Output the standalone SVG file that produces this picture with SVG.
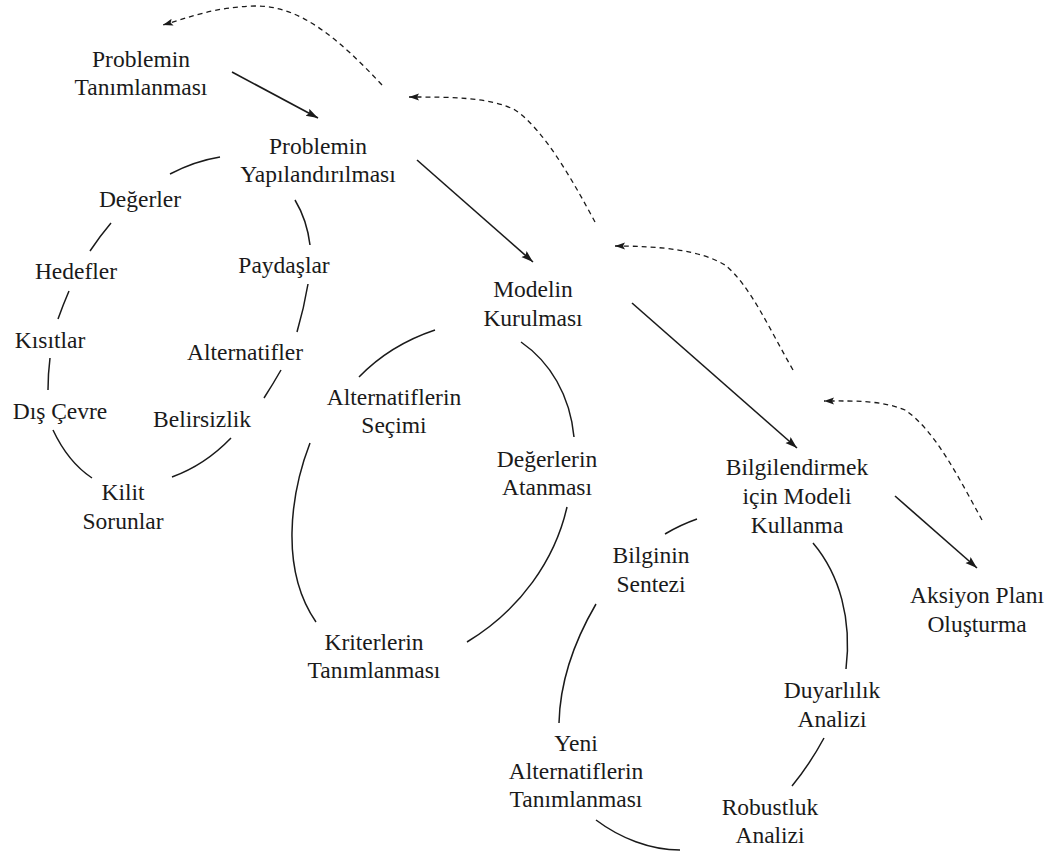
<svg xmlns="http://www.w3.org/2000/svg" width="1060" height="855" viewBox="0 0 1060 855">
<defs>
<style>
.arc{fill:none;stroke:#1a1a1a;stroke-width:1.5}
.arr{fill:none;stroke:#1a1a1a;stroke-width:1.6;marker-end:url(#ah)}
.dash{fill:none;stroke:#1a1a1a;stroke-width:1.3;stroke-dasharray:5 4;marker-end:url(#dh)}
</style>
<marker id="ah" markerUnits="userSpaceOnUse" markerWidth="14" markerHeight="10" refX="12" refY="4" orient="auto">
<path d="M0,0 L12,4 L0,8 L2,4 z" fill="#1a1a1a"/>
</marker>
<marker id="dh" markerUnits="userSpaceOnUse" markerWidth="12" markerHeight="8" refX="10" refY="3.5" orient="auto">
<path d="M0,0 L10,3.5 L0,7 L2,3.5 z" fill="#1a1a1a"/>
</marker>
</defs>
<rect width="1060" height="855" fill="#ffffff"/>
<g id="connectors">
<path class="arr" d="M232,72 L318,118"/>
<path class="arr" d="M417,160 L533,262"/>
<path class="arr" d="M632,303 L797,448"/>
<path class="arr" d="M895,496 L977,568"/>
<path class="dash" d="M382,85 C340,40 300,5 255,6 C215,7 190,17 163,25"/>
<path class="dash" d="M595,222 C575,185 545,130 515,110 C490,97 450,97 409,97"/>
<path class="dash" d="M793,370 C770,330 750,285 725,265 C700,250 660,246 615,246"/>
<path class="dash" d="M982,520 C960,480 935,430 905,410 C880,400 855,401 824,401"/>
<path class="arc" d="M220,157 Q195,161 170,174"/>
<path class="arc" d="M111,223 Q100,236 90,251"/>
<path class="arc" d="M69,291 Q63,305 58,319"/>
<path class="arc" d="M50,358 Q48,374 48,390"/>
<path class="arc" d="M53,430 Q68,462 92,478"/>
<path class="arc" d="M172,477 Q205,465 231,438"/>
<path class="arc" d="M264,398 Q273,384 281,370"/>
<path class="arc" d="M297,332 Q304,308 308,284"/>
<path class="arc" d="M310,245 Q307,220 295,200"/>
<path class="arc" d="M435,330 Q390,345 359,377"/>
<path class="arc" d="M310,443 C290,495 280,570 316,622"/>
<path class="arc" d="M467,642 C520,610 555,560 567,507"/>
<path class="arc" d="M574,437 C570,395 550,362 521,342"/>
<path class="arc" d="M697,519 Q680,525 665,534"/>
<path class="arc" d="M596,604 C575,640 560,680 559,723"/>
<path class="arc" d="M596,820 C620,838 650,850 680,850"/>
<path class="arc" d="M792,786 Q810,764 824,738"/>
<path class="arc" d="M846,669 C852,620 840,575 813,543"/>
</g>
<g font-family="Liberation Serif, Times New Roman, serif" font-size="23.5" fill="#1a1a1a" text-anchor="middle">
<g id="n-problem-tanim"><text x="141" y="67">Problemin</text><text x="141" y="95">Tanımlanması</text></g>
<g id="n-problem-yapi"><text x="318" y="154">Problemin</text><text x="318" y="182">Yapılandırılması</text></g>
<g id="n-degerler"><text x="140" y="207">Değerler</text></g>
<g id="n-hedefler"><text x="76" y="279">Hedefler</text></g>
<g id="n-kisitlar"><text x="50" y="348">Kısıtlar</text></g>
<g id="n-dis-cevre"><text x="60" y="419">Dış Çevre</text></g>
<g id="n-kilit"><text x="123" y="500">Kilit</text><text x="123" y="529">Sorunlar</text></g>
<g id="n-belirsizlik"><text x="202" y="427">Belirsizlik</text></g>
<g id="n-alternatifler"><text x="245" y="360">Alternatifler</text></g>
<g id="n-paydaslar"><text x="284" y="273">Paydaşlar</text></g>
<g id="n-model-kurul"><text x="533" y="297">Modelin</text><text x="533" y="326">Kurulması</text></g>
<g id="n-alt-secim"><text x="394" y="405">Alternatiflerin</text><text x="394" y="433">Seçimi</text></g>
<g id="n-deger-atan"><text x="547" y="467">Değerlerin</text><text x="547" y="495">Atanması</text></g>
<g id="n-kriter"><text x="374" y="650">Kriterlerin</text><text x="374" y="678">Tanımlanması</text></g>
<g id="n-bilgilendir"><text x="797" y="475">Bilgilendirmek</text><text x="797" y="504">için Modeli</text><text x="797" y="533">Kullanma</text></g>
<g id="n-aksiyon"><text x="977" y="603">Aksiyon Planı</text><text x="977" y="632">Oluşturma</text></g>
<g id="n-bilgi-sentez"><text x="651" y="563">Bilginin</text><text x="651" y="592">Sentezi</text></g>
<g id="n-duyarlilik"><text x="832" y="698">Duyarlılık</text><text x="832" y="727">Analizi</text></g>
<g id="n-robust"><text x="770" y="815">Robustluk</text><text x="770" y="843">Analizi</text></g>
<g id="n-yeni-alt"><text x="576" y="751">Yeni</text><text x="576" y="779">Alternatiflerin</text><text x="576" y="807">Tanımlanması</text></g>
</g>
</svg>
